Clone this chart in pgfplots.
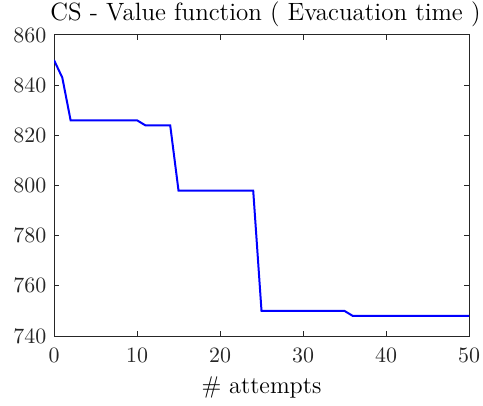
\documentclass[border=0pt]{standalone}
\usepackage{pgfplots}
\pgfplotsset{compat=1.18}
\begin{document}
\fontsize{11}{13}\selectfont
\begin{tikzpicture}
\definecolor{axgray}{rgb}{0.15,0.15,0.15}
\begin{axis}[
  scale only axis,
  width=207.5pt, height=150.5pt,
  xmin=0, xmax=50, ymin=740, ymax=860,
  xtick={0,10,20,30,40,50},
  ytick={740,760,780,800,820,840,860},
  tick align=inside,
  major tick length=2.5pt,
  axis line style={axgray, line width=0.5pt},
  tick style={axgray, line width=0.5pt},
  ticklabel style={font=\fontsize{11}{13}\selectfont, text=axgray},
  xticklabel style={anchor=base, yshift=-13pt},
  scaled ticks=false,
  /pgf/number format/1000 sep={},
]
\addplot[blue, line width=1pt] coordinates {
(0,850) (1,843) (2,826) (10,826) (11,824) (14,824) (15,798) (24,798) (25,750) (35,750) (36,748) (50,748)
};
\coordinate (sw) at (rel axis cs:0,0);
\coordinate (ne) at (rel axis cs:1,1);
\coordinate (tt) at (rel axis cs:0.5,1);
\coordinate (bb) at (rel axis cs:0.5,0);
\end{axis}
\node[font=\fontsize{12.5}{14}\selectfont, anchor=base, inner sep=0pt, text=black] at ([xshift=2pt,yshift=7.3pt]tt) {CS - Value function ( Evacuation time )};
\node[font=\fontsize{12.1}{14}\selectfont, anchor=base, inner sep=0pt, text=black] at ([yshift=-28.5pt]bb) {\# attempts};
\pgfresetboundingbox
\useasboundingbox ([shift={(-27pt,-34.5pt)}]sw) rectangle ([shift={(7pt,17.5pt)}]ne);
\end{tikzpicture}
\end{document}
